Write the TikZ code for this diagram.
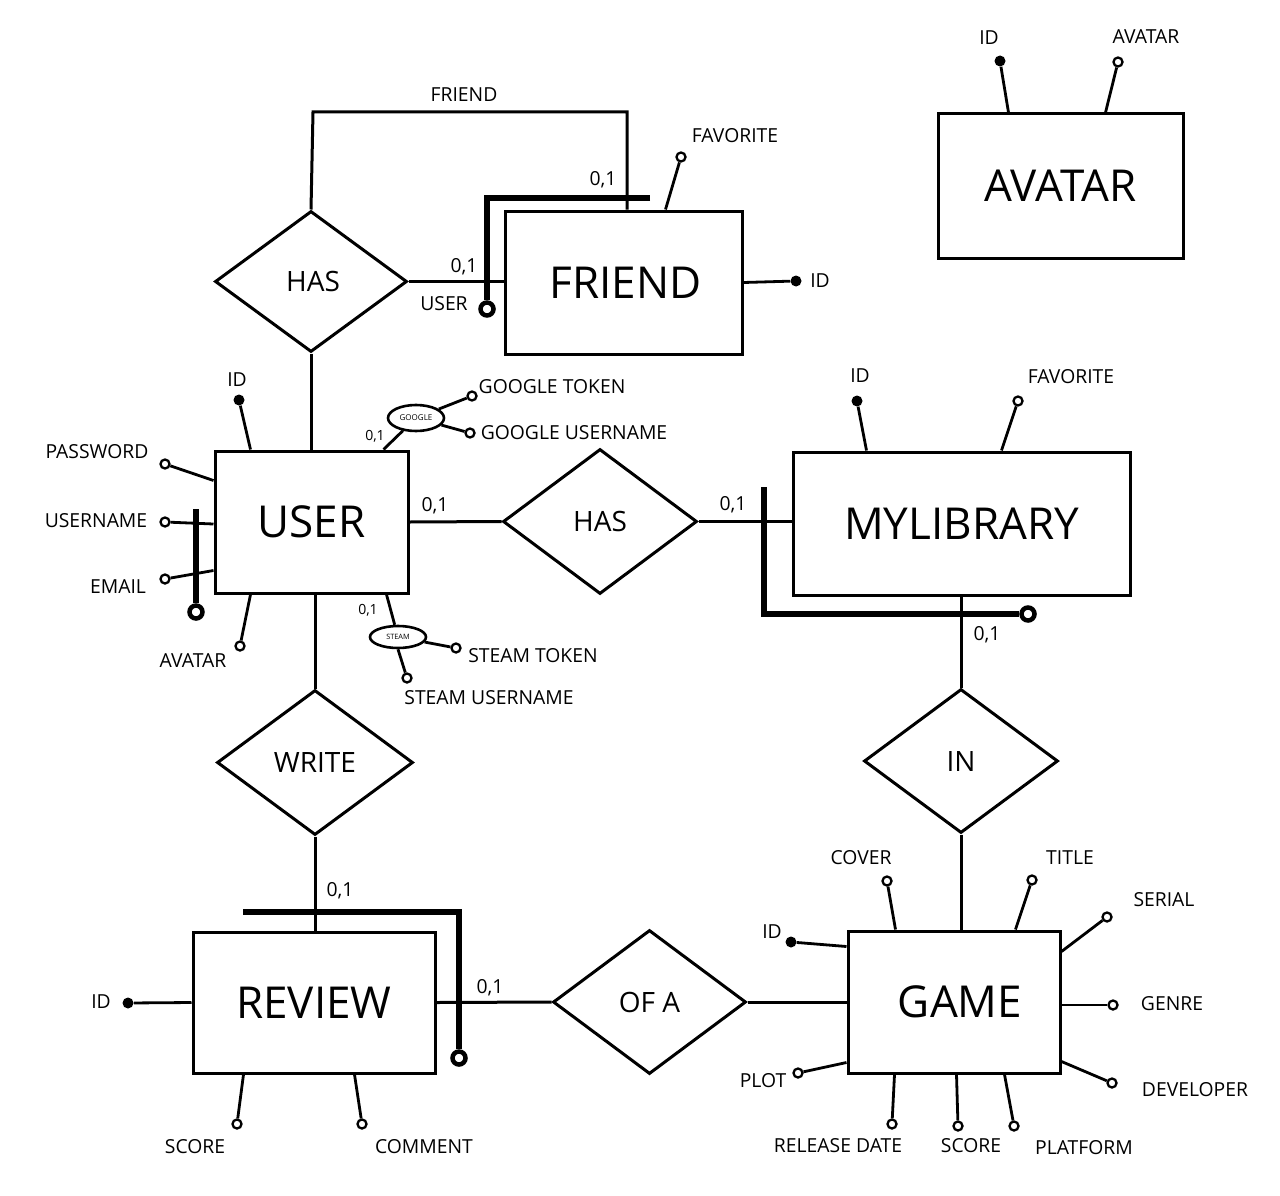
\documentclass[tikz,border=0pt]{standalone}
\usepackage{fontspec}
\setmainfont{Open Sans}
\usetikzlibrary{shapes.geometric,calc}
\newlength\PXU \setlength\PXU{0.75pt}
\newcommand\lblfont{\fontsize{14.5}{17}\selectfont}
\newcommand\entfont{\fontsize{33}{36}\selectfont}
\newcommand\relfont{\fontsize{21}{24}\selectfont}
\newcommand\minicard{\fontsize{10.5}{12}\selectfont}
\begin{document}
\begin{tikzpicture}[x=0.75pt,y=-0.75pt,line join=miter,
  ent/.style={draw,rectangle,inner sep=0,line width=3\PXU,font=\entfont},
  rel/.style={draw,diamond,inner sep=0,line width=3\PXU,font=\relfont},
  opt/.style={draw,circle,fill=white,inner sep=0,minimum size=9\PXU,line width=2.3\PXU},
  key/.style={circle,fill=black,inner sep=0,minimum size=11\PXU},
  bigc/.style={draw,circle,inner sep=0,minimum size=13\PXU,line width=4.5\PXU},
  heavy/.style={line width=5.5\PXU},
  conn/.style={line width=3\PXU},
  attl/.style={line width=2.8\PXU},
  lbl/.style={font=\lblfont,inner sep=0},
  grp/.style={draw,ellipse,inner sep=0,line width=2.6\PXU}]
\fill[white] (0,0) rectangle (1280,1195);
\useasboundingbox (0,0) rectangle (1280,1195);

% entities
\node[ent,minimum width=237\PXU,minimum height=143\PXU] (friend) at (623.5,282.5) {\hspace*{4\PXU}FRIEND};
\node[ent,minimum width=193\PXU,minimum height=142\PXU] (user) at (311.5,522) {USER};
\node[ent,minimum width=337\PXU,minimum height=143\PXU] (mylib) at (961.5,523.5) {MYLIBRARY};
\node[ent,minimum width=212\PXU,minimum height=142\PXU] (game) at (954,1002) {\hspace*{12\PXU}GAME};
\node[ent,minimum width=242\PXU,minimum height=141\PXU] (review) at (314,1002.5) {REVIEW};
\node[ent,minimum width=245\PXU,minimum height=144\PXU] (avatar) at (1060.5,186) {AVATAR};

% relationships
\node[rel,minimum width=192\PXU,minimum height=141\PXU] (has1) at (311,281.5) {\hspace*{4\PXU}HAS};
\node[rel,minimum width=194\PXU,minimum height=145\PXU] (has2) at (600,521.5) {HAS};
\node[rel,minimum width=196\PXU,minimum height=145\PXU] (write) at (315,762.5) {WRITE};
\node[rel,minimum width=194\PXU,minimum height=144\PXU] (in) at (961,761) {IN};
\node[rel,minimum width=193\PXU,minimum height=144\PXU] (ofa) at (649.5,1002) {OF A};

% connectors
\coordinate (fl1) at (313,112);
\coordinate (fl2) at (627,112);
\draw[conn] (has1.north) -- (fl1) -- (fl2) -- (fl2 |- friend.north);
\draw[conn] (has1.east) -- (has1.east -| friend.west);
\draw[conn] (has1.south) -- (has1.south |- user.north);
\draw[conn] (user.east) -- (has2.west);
\draw[conn] (has2.east) -- (has2.east -| mylib.west);
\draw[conn] (mylib.south -| in.north) -- (in.north);
\draw[conn] (in.south) -- (in.south |- game.north);
\draw[conn] (user.south -| write.north) -- (write.north);
\draw[conn] (write.south) -- (write.south |- review.north);
\draw[conn] (review.east) -- (ofa.west);
\draw[conn] (ofa.east) -- (ofa.east -| game.west);

% heavy participation lines
\node[bigc] (fc) at (487,309) {};
\coordinate (fh1) at (487,198);
\coordinate (fh2) at (650,198);
\draw[heavy] (fh2) -- (fh1) -- (fc);
\node[bigc] (uc) at (196,612) {};
\coordinate (uh1) at (196,509);
\draw[heavy] (uh1) -- (uc);
\node[bigc] (mc) at (1028,614) {};
\coordinate (mh1) at (764,487);
\coordinate (mh2) at (764,614);
\draw[heavy] (mh1) -- (mh2) -- (mc);
\node[bigc] (rc) at (459,1058) {};
\coordinate (rh1) at (243,912);
\coordinate (rh2) at (459,912);
\draw[heavy] (rh1) -- (rh2) -- (rc);

% cardinalities
\node[lbl] at (603,180) {0,1};
\node[lbl] at (464,267) {0,1};
\node[lbl] at (435,506) {0,1};
\node[lbl] at (733,505) {0,1};
\node[lbl] at (987,635) {0,1};
\node[lbl] at (340,891) {0,1};
\node[lbl] at (490,988) {0,1};
\node[font=\minicard,inner sep=0] at (375,436) {0,1};
\node[font=\minicard,inner sep=0] at (368,610) {0,1};

% FRIEND attributes
\node[lbl] at (464,95) {FRIEND};
\node[lbl] at (444,304) {USER};
\node[opt] (ffav) at (681,157) {};
\node[lbl] at (735,136) {FAVORITE};
\draw[attl] ($(friend.north west)+(162,0)$) -- (ffav);
\node[key] (fid) at (796,281) {};
\node[lbl] at (820,281) {ID};
\draw[attl] (friend.east) -- (fid);

% USER attributes
\node[key] (uid) at (239,400) {};
\node[lbl] at (237,380) {ID};
\draw[attl] ($(user.north west)+(37,0)$) -- (uid);
\node[opt] (upw) at (165,464) {};
\node[lbl] at (97,452) {PASSWORD};
\draw[attl] ($(user.north west)+(0,31)$) -- (upw);
\node[opt] (uun) at (165,522) {};
\node[lbl] at (96,521) {USERNAME};
\draw[attl] ($(user.west)+(0,2)$) -- (uun);
\node[opt] (uem) at (165,579) {};
\node[lbl] at (118,587) {EMAIL};
\draw[attl] ($(user.south west)+(0,-24)$) -- (uem);
\node[opt] (uav) at (240,646) {};
\node[lbl] at (193,661) {AVATAR};
\draw[attl] ($(user.south west)+(37,0)$) -- (uav);

% GOOGLE group
\node[grp,minimum width=56\PXU,minimum height=26\PXU,font=\fontsize{6}{7}\selectfont] (google) at (416,418) {GOOGLE};
\draw[attl] ($(user.north west)+(170,0)$) -- (google);
\node[opt] (gtok) at (472,396) {};
\node[lbl] at (552,387) {GOOGLE TOKEN};
\draw[attl] (google) -- (gtok);
\node[opt] (gusr) at (470,433) {};
\node[lbl] at (574,433) {GOOGLE USERNAME};
\draw[attl] (google) -- (gusr);

% STEAM group
\node[grp,minimum width=56\PXU,minimum height=22\PXU,font=\fontsize{5.5}{6.5}\selectfont] (steam) at (398,637) {STEAM};
\draw[attl] ($(user.south west)+(173,0)$) -- (steam);
\node[opt] (stok) at (456,648) {};
\node[lbl] at (533,656) {STEAM TOKEN};
\draw[attl] (steam) -- (stok);
\node[opt] (susr) at (407,678) {};
\node[lbl] at (489,698) {STEAM USERNAME};
\draw[attl] (steam.south) -- (susr);

% MYLIBRARY attributes
\node[key] (mid) at (857,401) {};
\node[lbl] at (860,376) {ID};
\draw[attl] ($(mylib.north west)+(75,0)$) -- (mid);
\node[opt] (mfav) at (1018,401) {};
\node[lbl] at (1071,377) {FAVORITE};
\draw[attl] ($(mylib.north west)+(210,0)$) -- (mfav);

% GAME attributes
\node[key] (gid) at (791,942) {};
\node[lbl] at (772,932) {ID};
\draw[attl] ($(game.north west)+(0,17)$) -- (gid);
\node[opt] (gcov) at (887,881) {};
\node[lbl] at (861,858) {COVER};
\draw[attl] ($(game.north west)+(49,0)$) -- (gcov);
\node[opt] (gtit) at (1032,880) {};
\node[lbl] at (1070,858) {TITLE};
\draw[attl] ($(game.north west)+(169,0)$) -- (gtit);
\node[opt] (gser) at (1107,917) {};
\node[lbl] at (1164,900) {SERIAL};
\draw[attl] ($(game.north east)+(0,22)$) -- (gser);
\node[opt] (ggen) at (1113,1005) {};
\node[lbl] at (1172,1004) {GENRE};
\draw[attl] ($(game.east)+(0,3)$) -- (ggen);
\node[opt] (gdev) at (1112,1083) {};
\node[lbl] at (1195,1090) {DEVELOPER};
\draw[attl] ($(game.south east)+(0,-13)$) -- (gdev);
\node[opt] (gpla) at (1014,1126) {};
\node[lbl] at (1084,1148) {PLATFORM};
\draw[attl] ($(game.south west)+(158,0)$) -- (gpla);
\node[opt] (gsco) at (958,1126) {};
\node[lbl] at (971,1146) {SCORE};
\draw[attl] ($(game.south west)+(110,0)$) -- (gsco);
\node[opt] (grel) at (892,1124) {};
\node[lbl] at (838,1146) {RELEASE DATE};
\draw[attl] ($(game.south west)+(48,0)$) -- (grel);
\node[opt] (gplo) at (798,1073) {};
\node[lbl] at (763,1081) {PLOT};
\draw[attl] ($(game.south west)+(0,-12)$) -- (gplo);

% REVIEW attributes
\node[key] (rid) at (128,1003) {};
\node[lbl] at (101,1002) {ID};
\draw[attl] (review.west) -- (rid);
\node[opt] (rsc) at (237,1124) {};
\node[lbl] at (195,1147) {SCORE};
\draw[attl] ($(review.south west)+(52,0)$) -- (rsc);
\node[opt] (rcom) at (362,1124) {};
\node[lbl] at (424,1147) {COMMENT};
\draw[attl] ($(review.south west)+(163,0)$) -- (rcom);

% AVATAR attributes
\node[key] (aid) at (1000,61) {};
\node[lbl] at (989,38) {ID};
\draw[attl] ($(avatar.north west)+(72,0)$) -- (aid);
\node[opt] (aav) at (1118,62) {};
\node[lbl] at (1146,37) {AVATAR};
\draw[attl] ($(avatar.north west)+(169,0)$) -- (aav);
\end{tikzpicture}
\end{document}
